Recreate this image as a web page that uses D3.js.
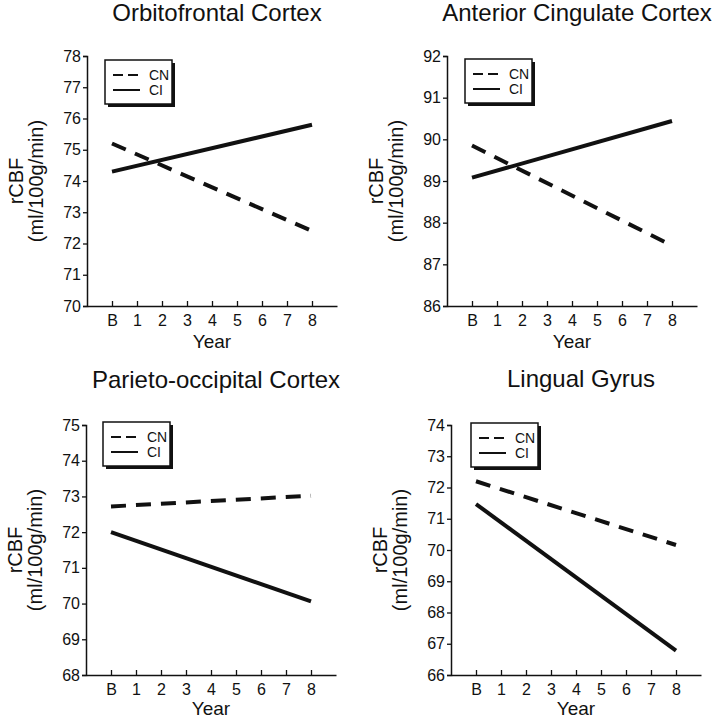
<!DOCTYPE html>
<html>
<head>
<meta charset="utf-8">
<script src="https://cdn.jsdelivr.net/npm/d3@7"></script>
<style>
  html, body { margin: 0; padding: 0; background: #fff; }
  svg { display: block; font-family: "Liberation Sans", Arial, sans-serif; }
</style>
</head>
<body>
<svg id="chart" width="718" height="719"></svg>
<script>
// ---- data ----
const years = [0, 8];                       // B (baseline) and year 8
const xTickValues = [0, 1, 2, 3, 4, 5, 6, 7, 8];
const xTickLabels = ["B", "1", "2", "3", "4", "5", "6", "7", "8"];
const seriesNames = ["CN", "CI"];
const titles = ["Orbitofrontal Cortex", "Anterior Cingulate Cortex", "Parieto-occipital Cortex", "Lingual Gyrus"];

const orbitoCN = [75.2, 72.4];
const orbitoCI = [74.3, 75.8];
const cingCN = [89.85, 87.45];
const cingCI = [89.08, 90.44];
const parietoCN = [72.72, 73.02];
const parietoCI = [72.0, 70.06];
const lingualCN = [72.2, 70.16];
const lingualCI = [71.47, 66.78];

const orbitoTicks = [70, 71, 72, 73, 74, 75, 76, 77, 78];
const cingTicks = [86, 87, 88, 89, 90, 91, 92];
const parietoTicks = [68, 69, 70, 71, 72, 73, 74, 75];
const lingualTicks = [66, 67, 68, 69, 70, 71, 72, 73, 74];

// ---- layout ----
const panels = [
  { title: titles[0], cn: orbitoCN, ci: orbitoCI, ticks: orbitoTicks, x0: 87, y0: 56, titleY: 21, legDx: 18, legDy: 4, yearDy: 42 },
  { title: titles[1], cn: cingCN, ci: cingCI, ticks: cingTicks, x0: 447, y0: 56, titleY: 21, legDx: 18, legDy: 3, yearDy: 42 },
  { title: titles[2], cn: parietoCN, ci: parietoCI, ticks: parietoTicks, x0: 86, y0: 425, titleY: 388, legDx: 17, legDy: -3, yearDy: 40 },
  { title: titles[3], cn: lingualCN, ci: lingualCI, ticks: lingualTicks, x0: 451, y0: 425, titleY: 387, legDx: 20, legDy: -2, yearDy: 40 }
];
const W = 250, H = 250;
const ink = "#111";
const FONT = "Liberation Sans, Arial, sans-serif";

const svg = d3.select("#chart");

panels.forEach(p => {
  const g = svg.append("g").attr("transform", `translate(${p.x0},${p.y0})`);
  const x = d3.scaleLinear().domain([-1, 9]).range([0, W]);
  const y = d3.scaleLinear().domain(d3.extent(p.ticks)).range([H, 0]);

  // title
  svg.append("text")
    .attr("x", p.x0 + W / 2 + 5)
    .attr("y", p.titleY)
    .attr("text-anchor", "middle")
    .attr("font-size", 24)
    .attr("fill", ink)
    .text(p.title);

  // y axis
  const yAxis = d3.axisLeft(y).tickValues(p.ticks).tickSize(4).tickPadding(2).tickFormat(d3.format("d"));
  const ya = g.append("g").call(yAxis);
  ya.selectAll("text").attr("font-size", 16).attr("fill", ink).attr("font-family", FONT);

  // x axis
  const xAxis = d3.axisBottom(x).tickValues(xTickValues).tickSizeInner(-5).tickSizeOuter(0).tickPadding(9)
    .tickFormat((d, i) => xTickLabels[i]);
  const xa = g.append("g").attr("transform", `translate(0,${H})`).call(xAxis);
  xa.selectAll("text").attr("font-size", 16).attr("fill", ink).attr("font-family", FONT);

  [ya, xa].forEach(a => {
    a.select(".domain").attr("stroke", ink).attr("stroke-width", 1.5);
    a.selectAll(".tick line").attr("stroke", ink).attr("stroke-width", 1.3);
  });

  // axis titles
  g.append("text")
    .attr("x", W / 2)
    .attr("y", H + p.yearDy)
    .attr("text-anchor", "middle")
    .attr("font-size", 19)
    .attr("fill", ink)
    .text("Year");

  const yl = g.append("text")
    .attr("transform", `translate(-71,${H / 2}) rotate(-90)`)
    .attr("text-anchor", "middle")
    .attr("font-size", 20)
    .attr("fill", ink);
  yl.append("tspan").attr("x", 0).attr("dy", "0.35em").text("rCBF");
  yl.append("tspan").attr("x", 0).attr("dy", "1em").text("(ml/100g/min)");

  // lines
  const line = d3.line().x((d, i) => x(years[i])).y(d => y(d));
  g.append("path").datum(p.cn)
    .attr("d", line).attr("fill", "none").attr("stroke", ink)
    .attr("stroke-width", 4).attr("stroke-dasharray", "15,10");
  g.append("path").datum(p.ci)
    .attr("d", line).attr("fill", "none").attr("stroke", ink)
    .attr("stroke-width", 4);

  // legend
  const lg = g.append("g").attr("transform", `translate(${p.legDx},${p.legDy})`);
  const bw = 67, bh = 44;
  lg.append("rect").attr("x", 3).attr("y", 3).attr("width", bw).attr("height", bh).attr("fill", ink);
  lg.append("rect").attr("x", 0).attr("y", 0).attr("width", bw).attr("height", bh)
    .attr("fill", "#fff").attr("stroke", ink).attr("stroke-width", 1.5);
  seriesNames.forEach((name, i) => {
    const ly = 15 + i * 15;
    lg.append("line").attr("x1", 8).attr("x2", 35).attr("y1", ly).attr("y2", ly)
      .attr("stroke", ink).attr("stroke-width", 2)
      .attr("stroke-dasharray", i === 0 ? "10,5" : null);
    lg.append("text").attr("x", 44).attr("y", ly).attr("dy", "0.36em")
      .attr("font-size", 14).attr("fill", ink).text(name);
  });
});
</script>
</body>
</html>
